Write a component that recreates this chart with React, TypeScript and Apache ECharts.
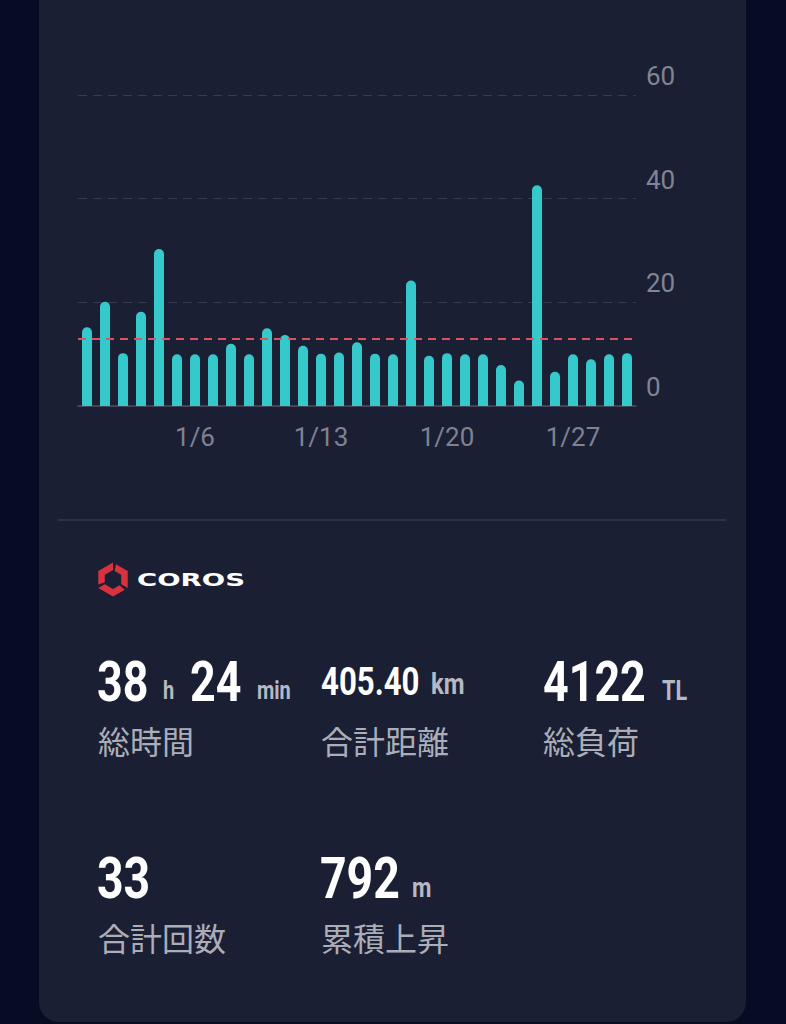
import React, { useEffect, useRef } from 'react';
import * as echarts from 'echarts';

// ---- data ----
const categories: string[] = [
  '12/31', '1/1', '1/2', '1/3', '1/4', '1/5', '1/6', '1/7', '1/8', '1/9', '1/10',
  '1/11', '1/12', '1/13', '1/14', '1/15', '1/16', '1/17', '1/18', '1/19', '1/20',
  '1/21', '1/22', '1/23', '1/24', '1/25', '1/26', '1/27', '1/28', '1/29', '1/30',
];
const distances: number[] = [
  15.2, 20.1, 10.2, 18.2, 30.3, 10.0, 10.0, 10.0, 12.0, 10.0, 15.0,
  13.7, 11.6, 10.1, 10.3, 12.3, 10.1, 10.0, 24.2, 9.7, 10.2,
  10.0, 10.0, 7.9, 4.9, 42.6, 6.6, 10.0, 9.0, 10.0, 10.2,
];
const shownLabels: string[] = ['1/6', '1/13', '1/20', '1/27'];
const yMin = 0;
const yMax = 60;
const yStep = 20;

// stats
const row1Numbers = ['38', '24', '405.40', '4122'];
const row1Units = ['h', 'min', 'km', 'TL'];
const row1Labels = ['総時間', '合計距離', '総負荷'];
const row2Numbers = ['33', '792'];
const row2Units = ['m'];
const row2Labels = ['合計回数', '累積上昇'];
const brand = 'COROS';

const NUM_FONT = 'Roboto';
const CJK_FONT = '"Noto Sans CJK JP"';

function numText(text: string, x: number, baseline: number, fs: number, fill: string) {
  return {
    type: 'text',
    x,
    y: baseline - 0.29 * fs,
    scaleX: 0.8,
    style: {
      text,
      fill,
      font: `bold ${fs}px ${NUM_FONT}`,
      textAlign: 'left',
      align: 'left',
      textVerticalAlign: 'middle',
      verticalAlign: 'middle',
    },
  };
}

function cjkText(text: string, x: number, cy: number) {
  return {
    type: 'text',
    x,
    y: cy,
    style: {
      text,
      fill: '#abaeb9',
      font: `32px ${CJK_FONT}`,
      textAlign: 'left',
      align: 'left',
      textVerticalAlign: 'middle',
      verticalAlign: 'middle',
    },
  };
}

function logoPolys() {
  const cx = 113, cy = 579.5, R = 17, r = 9.5;
  const pt = (rad: number, i: number) => {
    const a = ((-90 + 60 * i) * Math.PI) / 180;
    return [cx + rad * Math.cos(a), cy + rad * Math.sin(a)];
  };
  const lerp = (p: number[], q: number[], t: number) => [p[0] + (q[0] - p[0]) * t, p[1] + (q[1] - p[1]) * t];
  const polys: any[] = [];
  for (let k = 0; k < 3; k++) {
    const i0 = 2 * k, i1 = 2 * k + 1, i2 = 2 * k + 2;
    const o0 = lerp(pt(R, i0), pt(R, i1), 0.2);
    const n0 = lerp(pt(r, i0), pt(r, i1), 0.2);
    polys.push({
      type: 'polygon',
      shape: { points: [o0, pt(R, i1), pt(R, i2), pt(r, i2), pt(r, i1), n0] },
      style: { fill: '#d8323f' },
    });
  }
  return polys;
}

export default function App() {
  const ref = useRef<HTMLDivElement>(null);

  useEffect(() => {
    if (!ref.current) return;
    const chart = echarts.init(ref.current, null, { renderer: 'svg' });

    const unitColor = '#b6b9c3';
    const graphics: any[] = [
      {
        type: 'line',
        shape: { x1: 58, y1: 520, x2: 726, y2: 520 },
        style: { stroke: '#2c3144', lineWidth: 2 },
      },
      ...logoPolys(),
      {
        type: 'text',
        x: 137,
        y: 580,
        scaleX: 1.62,
        style: {
          text: brand,
          fill: '#ffffff',
          font: 'bold 17px "DejaVu Sans"',
          textAlign: 'left',
          align: 'left',
          textVerticalAlign: 'middle',
          verticalAlign: 'middle',
        },
      },
      // row 1 numbers
      numText(row1Numbers[0], 97, 698, 56, '#ffffff'),
      numText(row1Units[0], 163, 698, 25, unitColor),
      numText(row1Numbers[1], 190, 698, 56, '#ffffff'),
      numText(row1Units[1], 257, 698, 25, unitColor),
      numText(row1Numbers[2], 321, 693, 39, '#ffffff'),
      numText(row1Units[2], 431, 693, 30, unitColor),
      numText(row1Numbers[3], 543, 698, 56, '#ffffff'),
      numText(row1Units[3], 662, 698, 27, unitColor),
      cjkText(row1Labels[0], 98, 740),
      cjkText(row1Labels[1], 321, 740),
      cjkText(row1Labels[2], 543, 740),
      // row 2
      numText(row2Numbers[0], 97, 895, 58, '#ffffff'),
      numText(row2Numbers[1], 320, 895, 58, '#ffffff'),
      numText(row2Units[0], 412, 895, 28, unitColor),
      cjkText(row2Labels[0], 98, 937),
      cjkText(row2Labels[1], 321, 937),
    ];

    chart.setOption({
      animation: false,
      backgroundColor: 'transparent',
      grid: { left: 78, top: 95, width: 558, height: 311 },
      xAxis: {
        type: 'category',
        data: categories,
        boundaryGap: true,
        axisTick: { show: false },
        axisLine: { lineStyle: { color: '#4a4f61', width: 1.5 } },
        axisLabel: {
          interval: (_i: number, v: string) => shownLabels.includes(v),
          color: '#7e8293',
          fontSize: 26,
          fontFamily: NUM_FONT,
          margin: 18,
        },
        splitLine: { show: false },
      },
      yAxis: {
        type: 'value',
        position: 'right',
        min: yMin,
        max: yMax,
        interval: yStep,
        axisLine: { show: false },
        axisTick: { show: false },
        splitLine: { lineStyle: { color: '#363b4e', type: [9, 6], width: 1 } },
        axisLabel: {
          color: '#808494',
          fontSize: 26,
          fontFamily: NUM_FONT,
          margin: 10,
          verticalAlign: 'bottom',
          lineHeight: 38,
        },
      },
      series: [
        {
          type: 'bar',
          data: distances,
          barWidth: 10,
          itemStyle: { color: '#35c9cc', borderRadius: [5, 5, 0, 0] },
          markLine: {
            symbol: 'none',
            silent: true,
            label: { show: false },
            lineStyle: { color: '#d9545d', type: [8, 6], width: 2 },
            data: [{ type: 'average' }],
          },
        },
      ],
      graphic: graphics,
    });

    return () => chart.dispose();
  }, []);

  return (
    <div
      style={{
        position: 'fixed',
        left: 0,
        top: 0,
        width: 786,
        height: 1024,
        background: '#070b23',
        overflow: 'hidden',
      }}
    >
      <div
        style={{
          position: 'absolute',
          left: 39,
          top: -40,
          width: 707,
          height: 1062,
          borderRadius: 20,
          background: '#1b1f33',
        }}
      />
      <div ref={ref} style={{ position: 'absolute', left: 0, top: 0, width: 786, height: 1024 }} />
    </div>
  );
}
